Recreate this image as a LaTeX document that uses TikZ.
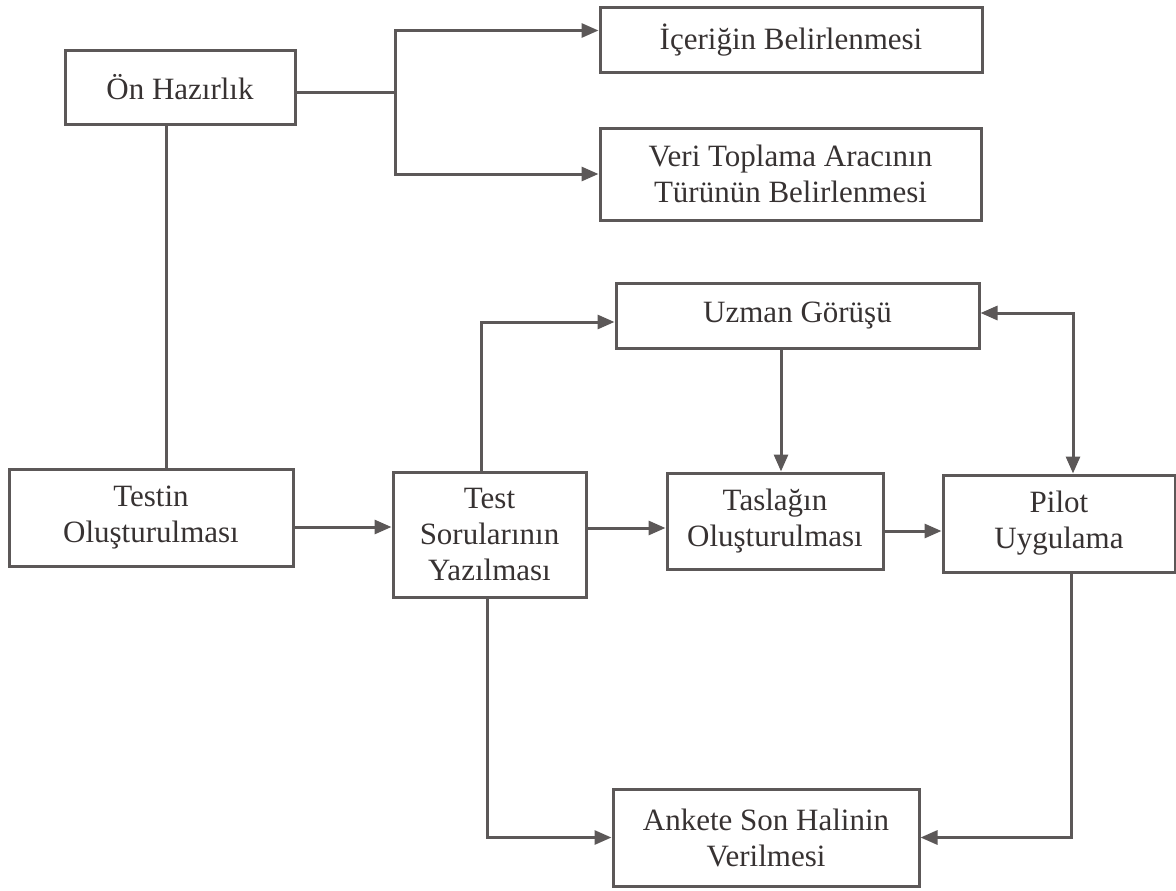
\documentclass[tikz,border=0pt]{standalone}
\usepackage{fontspec}
\setmainfont{Liberation Serif}
\usetikzlibrary{arrows.meta}
\definecolor{linegray}{RGB}{92,88,88}
\definecolor{textgray}{RGB}{55,50,50}
\tikzset{
    box/.style={draw=linegray, line width=3pt, align=center, text=textgray,
        font=\fontsize{31}{36}\selectfont},
    arr/.style={draw=linegray, line width=3pt, -{Triangle[length=17pt,width=14pt]}},
    arrboth/.style={draw=linegray, line width=3pt, {Triangle[length=17pt,width=14pt]}-{Triangle[length=17pt,width=14pt]}},
}
\begin{document}
\begin{tikzpicture}[x=1pt,y=-1pt]
\useasboundingbox (0,0) rectangle (1176,891);
\foreach \n/\x/\y/\w/\h/\t in {onhaz/180/87.5/230/73/{Ön Hazırlık},
    icerik/791/40.5/382/65/{İçeriğin Belirlenmesi},
    veri/790.5/174/381/92/{Veri Toplama Aracının\\Türünün Belirlenmesi},
    uzman/797.5/315.5/363/65/{Uzman Görüşü},
    testin/151/517.5/284/97/{Testin\\Oluşturulması},
    soru/489.5/534.5/193/125/{Test\\Sorularının\\Yazılması},
    taslak/775/521/216/96/{Taslağın\\Oluşturulması},
    pilot/1059/523.5/232/97/{Pilot\\Uygulama},
    anket/766/837.5/306/97/{Ankete Son Halinin\\Verilmesi}}{
    \node[box, minimum width=\w pt, minimum height=\h pt] (\n) at (\x,\y) {\t};
}
% top branch
\coordinate (split) at (395,93);
\draw[draw=linegray, line width=3pt] (onhaz.east |- split) -- (split);
\draw[arr] (split) |- ([yshift=10pt]icerik.west);
\draw[arr] (split) |- (veri.west);
\draw[draw=linegray, line width=3pt] ([xshift=-14pt]onhaz.south) -- ([xshift=-14pt]onhaz.south |- testin.north);
% middle row
\draw[arr] ([yshift=-9.5pt]testin.east) -- ([yshift=-9.5pt]testin.east -| soru.west);
\draw[arr] ([yshift=6.5pt]soru.east) -- ([yshift=6.5pt]soru.east -| taslak.west);
\draw[arr] ([yshift=-10pt]taslak.east) -- ([yshift=-10pt]taslak.east -| pilot.west);
\draw[arr] ([xshift=-8.5pt]soru.north) |- ([yshift=-6.5pt]uzman.west);
\draw[arr] ([xshift=6pt]taslak.north |- uzman.south) -- ([xshift=6pt]taslak.north);
\draw[arrboth] ([yshift=2.5pt]uzman.east) -| ([xshift=14pt]pilot.north);
% bottom
\draw[arr] ([xshift=-2.5pt]soru.south) |- (anket.west);
\draw[arr] ([xshift=12pt]pilot.south) |- (anket.east);
\end{tikzpicture}
\end{document}
